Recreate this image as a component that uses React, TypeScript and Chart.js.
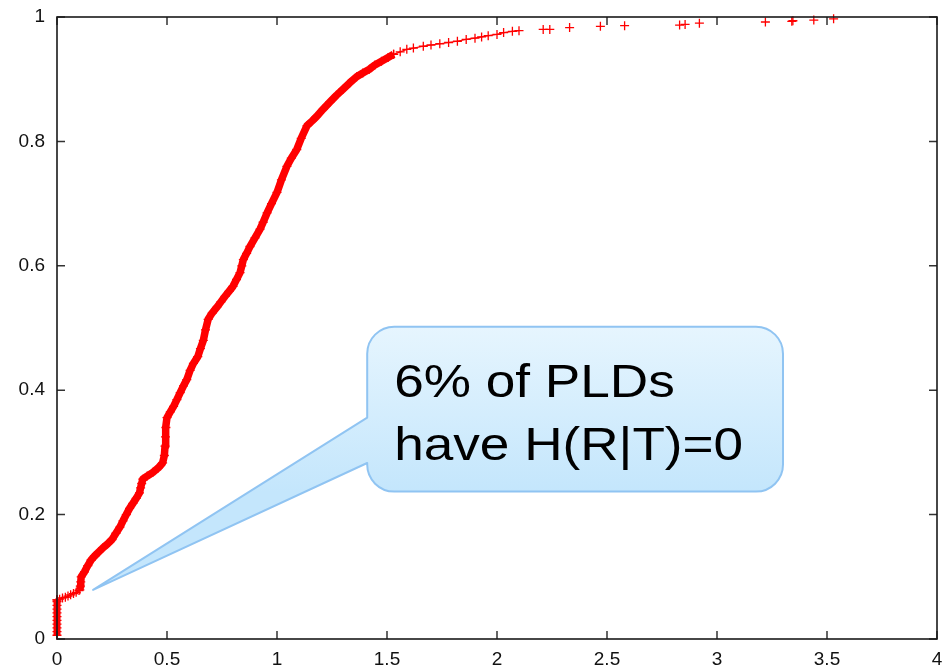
import React, { useEffect, useRef } from "react";
import { Chart, registerables } from "chart.js";

Chart.register(...registerables);

// ---- tick labels ----
const X_TICKS = [0, 0.5, 1, 1.5, 2, 2.5, 3, 3.5, 4];
const X_TICK_LABELS = ["0", "0.5", "1", "1.5", "2", "2.5", "3", "3.5", "4"];
const Y_TICKS = [0, 0.2, 0.4, 0.6, 0.8, 1];
const Y_TICK_LABELS = ["0", "0.2", "0.4", "0.6", "0.8", "1"];

// ---- CDF series ----
const zeroY = [0.006, 0.012, 0.018, 0.024, 0.03, 0.036, 0.042, 0.048, 0.054, 0.06, 0.063];
const flatX = [0, 0.012, 0.025, 0.038, 0.05, 0.062, 0.075, 0.087, 0.1];
const flatY = [0.063, 0.064, 0.066, 0.067, 0.069, 0.071, 0.073, 0.075, 0.078];
const denseX = [0.104, 0.106, 0.108, 0.11, 0.125, 0.14, 0.155, 0.17, 0.19, 0.21, 0.23, 0.25, 0.268, 0.286, 0.3, 0.315, 0.33, 0.345, 0.36, 0.375, 0.38, 0.385, 0.39, 0.41, 0.436, 0.46, 0.48, 0.488, 0.491, 0.493, 0.495, 0.5, 0.515, 0.53, 0.545, 0.56, 0.575, 0.59, 0.605, 0.62, 0.64, 0.652, 0.665, 0.675, 0.687, 0.705, 0.726, 0.745, 0.764, 0.782, 0.8, 0.816, 0.832, 0.84, 0.847, 0.862, 0.877, 0.9, 0.923, 0.937, 0.955, 0.975, 1.0, 1.02, 1.045, 1.065, 1.09, 1.11, 1.136, 1.16, 1.18, 1.21, 1.24, 1.27, 1.3, 1.33, 1.362, 1.39, 1.42, 1.445, 1.475, 1.505, 1.53];
const denseY = [0.079, 0.085, 0.092, 0.1, 0.108, 0.118, 0.127, 0.133, 0.14, 0.147, 0.153, 0.16, 0.17, 0.18, 0.19, 0.2, 0.21, 0.218, 0.226, 0.235, 0.243, 0.25, 0.257, 0.262, 0.268, 0.275, 0.283, 0.295, 0.31, 0.325, 0.34, 0.356, 0.365, 0.374, 0.385, 0.396, 0.407, 0.417, 0.432, 0.443, 0.454, 0.467, 0.48, 0.497, 0.514, 0.524, 0.533, 0.542, 0.551, 0.559, 0.567, 0.578, 0.589, 0.6, 0.61, 0.62, 0.631, 0.645, 0.659, 0.67, 0.685, 0.7, 0.718, 0.738, 0.76, 0.773, 0.787, 0.805, 0.825, 0.833, 0.84, 0.852, 0.863, 0.874, 0.884, 0.894, 0.904, 0.91, 0.916, 0.923, 0.929, 0.935, 0.94];
const tailX = [1.53, 1.56, 1.59, 1.62, 1.665, 1.7, 1.74, 1.78, 1.82, 1.86, 1.9, 1.93, 1.96, 2.0, 2.03, 2.07, 2.1];
const tailY = [0.94, 0.944, 0.948, 0.95, 0.953, 0.955, 0.957, 0.959, 0.961, 0.964, 0.966, 0.968, 0.97, 0.972, 0.975, 0.977, 0.978];
const farX = [2.21, 2.24, 2.33, 2.47, 2.58, 2.83, 2.855, 2.92, 3.22, 3.34, 3.345, 3.44, 3.53];
const farY = [0.98, 0.98, 0.983, 0.985, 0.986, 0.987, 0.988, 0.99, 0.992, 0.993, 0.994, 0.995, 0.997];

// ---- callout annotation (data coordinates) ----
const CALLOUT_LINES = ["6% of PLDs", "have H(R|T)=0"];
const CALLOUT_BOX = { x0: 1.41, x1: 3.3, yTop: 0.502, yBottom: 0.237 };
const CALLOUT_TIP = { x: 0.164, y: 0.079 };
const CALLOUT_BASE = { yUpper: 0.356, yLower: 0.283 };

const RED = "#ff0000";
const FONT = '"Liberation Sans", Arial, Helvetica, sans-serif';

const pts = (xs: number[], ys: number[]) => xs.map((x, i) => ({ x, y: ys[i] }));

const framePlugin = {
  id: "frame",
  afterDatasetsDraw(chart: any) {
    const { ctx, chartArea } = chart;
    const { left, right, top, bottom } = chartArea;
    const xs = chart.scales.x;
    const ys = chart.scales.y;
    ctx.save();
    ctx.strokeStyle = "#333";
    ctx.lineWidth = 1.5;
    const tl = 8;
    ctx.beginPath();
    X_TICKS.forEach((v) => {
      const px = xs.getPixelForValue(v);
      ctx.moveTo(px, bottom);
      ctx.lineTo(px, bottom - tl);
      ctx.moveTo(px, top);
      ctx.lineTo(px, top + tl);
    });
    Y_TICKS.forEach((v) => {
      const py = ys.getPixelForValue(v);
      ctx.moveTo(left, py);
      ctx.lineTo(left + tl, py);
      ctx.moveTo(right, py);
      ctx.lineTo(right - tl, py);
    });
    ctx.stroke();
    ctx.strokeStyle = "#1a1a1a";
    ctx.lineWidth = 1.6;
    ctx.strokeRect(left, top, right - left, bottom - top);
    ctx.restore();
  },
};

const calloutPlugin = {
  id: "callout",
  afterDraw(chart: any) {
    const { ctx } = chart;
    const xs = chart.scales.x;
    const ys = chart.scales.y;
    const L = xs.getPixelForValue(CALLOUT_BOX.x0);
    const R = xs.getPixelForValue(CALLOUT_BOX.x1);
    const T = ys.getPixelForValue(CALLOUT_BOX.yTop);
    const B = ys.getPixelForValue(CALLOUT_BOX.yBottom);
    const tipX = xs.getPixelForValue(CALLOUT_TIP.x);
    const tipY = ys.getPixelForValue(CALLOUT_TIP.y);
    const bu = ys.getPixelForValue(CALLOUT_BASE.yUpper);
    const bl = ys.getPixelForValue(CALLOUT_BASE.yLower);
    const r = 27;
    ctx.save();
    ctx.beginPath();
    ctx.moveTo(L + r, T);
    ctx.lineTo(R - r, T);
    ctx.arcTo(R, T, R, T + r, r);
    ctx.lineTo(R, B - r);
    ctx.arcTo(R, B, R - r, B, r);
    ctx.lineTo(L + r, B);
    ctx.arcTo(L, B, L, B - r, r);
    ctx.lineTo(L, bl);
    ctx.lineTo(tipX, tipY);
    ctx.lineTo(L, bu);
    ctx.lineTo(L, T + r);
    ctx.arcTo(L, T, L + r, T, r);
    ctx.closePath();
    const g = ctx.createLinearGradient(0, T, 0, B);
    g.addColorStop(0, "#e6f5fe");
    g.addColorStop(1, "#c4e6fc");
    ctx.fillStyle = g;
    ctx.fill();
    ctx.strokeStyle = "#90c4f2";
    ctx.lineWidth = 2;
    ctx.lineJoin = "round";
    ctx.stroke();
    ctx.fillStyle = "#000";
    ctx.font = `46px ${FONT}`;
    ctx.textAlign = "left";
    ctx.textBaseline = "alphabetic";
    const sx = 1.155;
    ctx.translate(L + 27, 0);
    ctx.scale(sx, 1);
    ctx.fillText(CALLOUT_LINES[0], 0, T + 70);
    ctx.fillText(CALLOUT_LINES[1], 0, T + 133);
    ctx.restore();
  },
};

export default function App() {
  const ref = useRef<HTMLCanvasElement | null>(null);
  useEffect(() => {
    if (!ref.current) return;
    const crossPt = { pointStyle: "cross", pointRadius: 4.5, pointBorderWidth: 1.3, pointBorderColor: RED, pointBackgroundColor: RED };
    const chart = new Chart(ref.current, {
      type: "scatter",
      data: {
        datasets: [
          { data: zeroY.map((y) => ({ x: 0, y })), showLine: true, borderColor: RED, borderWidth: 7, ...crossPt, clip: false } as any,
          { data: pts(flatX, flatY), showLine: true, borderColor: RED, borderWidth: 1.8, ...crossPt, clip: false } as any,
          { data: pts(denseX, denseY), showLine: true, borderColor: RED, borderWidth: 7.5, borderJoinStyle: "round", ...crossPt, clip: false } as any,
          { data: pts(tailX, tailY), showLine: true, borderColor: RED, borderWidth: 1.2, ...crossPt, clip: false } as any,
          { data: pts(farX, farY), showLine: false, ...crossPt, clip: false } as any,
        ],
      },
      options: {
        animation: false,
        responsive: true,
        maintainAspectRatio: false,
        layout: { padding: { left: 0, right: 13, top: 17, bottom: 0 } },
        plugins: { legend: { display: false }, tooltip: { enabled: false } },
        scales: {
          x: {
            type: "linear",
            min: 0,
            max: 4,
            grid: { display: false },
            border: { display: false },
            afterBuildTicks: (axis: any) => {
              axis.ticks = X_TICKS.map((v) => ({ value: v }));
            },
            ticks: {
              color: "#111",
              font: { family: FONT, size: 19 },
              padding: 1,
              maxRotation: 0,
              autoSkip: false,
              callback: (_v: any, i: number) => X_TICK_LABELS[i],
            },
            afterFit: (s: any) => {
              s.height = 27;
            },
          },
          y: {
            type: "linear",
            min: 0,
            max: 1,
            grid: { display: false },
            border: { display: false },
            afterBuildTicks: (axis: any) => {
              axis.ticks = Y_TICKS.map((v) => ({ value: v }));
            },
            ticks: {
              color: "#111",
              font: { family: FONT, size: 19 },
              padding: 4,
              autoSkip: false,
              callback: (_v: any, i: number) => Y_TICK_LABELS[i],
            },
            afterFit: (s: any) => {
              s.width = 57;
            },
          },
        },
      } as any,
      plugins: [framePlugin, calloutPlugin],
    });
    return () => chart.destroy();
  }, []);
  return (
    <div style={{ position: "absolute", left: 0, top: 0, width: 950, height: 666, background: "#fff" }}>
      <canvas ref={ref} />
    </div>
  );
}
